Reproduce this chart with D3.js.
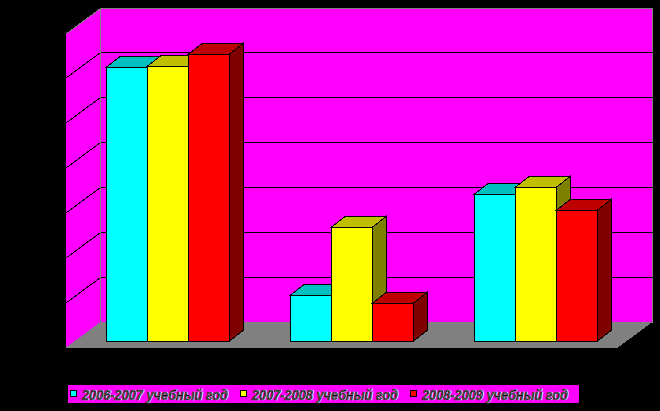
<!DOCTYPE html>
<html><head><meta charset="utf-8">
<style>html,body{margin:0;padding:0;background:#000}svg{display:block}</style>
<script src="https://cdn.jsdelivr.net/npm/d3@7"></script></head>
<body><div id="chart"></div>
<script>
const categories = ["Группа 1", "Группа 2", "Группа 3"];
const seriesNames = ["2006-2007 учебный год", "2007-2008 учебный год", "2008-2009 учебный год"];
const series2006 = [61, 10.3, 32.8];
const series2007 = [61.2, 25.4, 34.3];
const series2008 = [63.8, 8.5, 29.2];
const gridTicks = [10, 20, 30, 40, 50, 60, 70];

const W = 660, H = 411;
const allSeries = [series2006, series2007, series2008];
const front = ["#00FFFF", "#FFFF00", "#FF0000"];
const topC = ["#00BFBF", "#BFBF00", "#BF0000"];
const side = ["#008080", "#808000", "#800000"];

const svg = d3.select("#chart").append("svg").attr("width", W).attr("height", H)
  .attr("shape-rendering", "crispEdges");
svg.append("rect").attr("width", W).attr("height", H).attr("fill", "#000");

// 3D box frame
const depth = {dx: 34, dy: -25.5};
const frame = {x0: 66, x1: 618, y0: 347.5};
const barDepth = {dx: 14, dy: -11};
const yBack = d3.scaleLinear().domain([0, 70]).range([322, 7.5]);
const yBar = d3.scaleLinear().domain([0, 70]).range([341.5, 341.5 - 314.5]);
const x0 = d3.scaleBand().domain(categories).range([75.5, 627.5])
  .paddingInner(61 / 184).paddingOuter(30.5 / 184);
const x1 = d3.scaleBand().domain(d3.range(3)).range([0, x0.bandwidth()]);

const poly = pts => pts.map(p => p.join(",")).join(" ");
const bx0 = frame.x0 + depth.dx + .5, bx1 = frame.x1 + depth.dx + .5;
const topBack = Math.ceil(yBack(70)) + .5, botBack = yBack(0);

// back wall
svg.append("rect").attr("x", bx0).attr("y", topBack).attr("width", bx1 - bx0).attr("height", botBack - topBack)
  .attr("fill", "#FF00FF").attr("stroke", "#808080");
// left wall
svg.append("polygon").attr("points", poly([[frame.x0, topBack - depth.dy], [bx0, topBack], [bx0, botBack], [frame.x0, frame.y0]]))
  .attr("fill", "#FF00FF");
svg.append("line").attr("x1", frame.x0).attr("y1", topBack - depth.dy).attr("x2", bx0).attr("y2", topBack).attr("stroke", "#808080");
// floor
svg.append("polygon").attr("points", poly([[frame.x0, frame.y0], [bx0, botBack], [bx1, botBack], [frame.x1, frame.y0]]))
  .attr("fill", "#808080");

// gridlines
const g = svg.append("g").attr("stroke", "#000").attr("fill", "none");
gridTicks.slice(0, -1).forEach(t => {
  const y = Math.round(yBack(t)) + 0.5;
  g.append("line").attr("x1", bx0 + .5).attr("x2", bx1).attr("y1", y).attr("y2", y);
  g.append("line").attr("x1", frame.x0).attr("x2", bx0).attr("y1", y - depth.dy).attr("y2", y);
});
svg.append("line").attr("x1", bx0).attr("x2", bx0).attr("y1", topBack).attr("y2", botBack).attr("stroke", "#808080");

// bars
const bars = svg.append("g").attr("stroke", "#000").attr("stroke-width", 1);
categories.forEach((c, ci) => {
  allSeries.forEach((vals, si) => {
    const l = x0(c) + x1(si), r = l + x1.bandwidth();
    const b = yBar(0), t = Math.round(yBar(vals[ci]) - .5) + .5;
    const {dx, dy} = barDepth;
    bars.append("polygon").attr("fill", topC[si])
      .attr("points", poly([[l, t], [l + dx, t + dy], [r + dx, t + dy], [r, t]]));
    bars.append("polygon").attr("fill", side[si])
      .attr("points", poly([[r, t], [r + dx, t + dy], [r + dx, b + dy], [r, b]]));
    bars.append("rect").attr("fill", front[si]).attr("x", l).attr("y", t).attr("width", r - l).attr("height", b - t);
  });
});

// legend
const legend = svg.append("g");
legend.append("rect").attr("x", 68).attr("y", 385).attr("width", 511).attr("height", 18).attr("fill", "#FF00FF");
const legendX = d3.scaleLinear().domain([0, 2]).range([70.5, 410.5]);
seriesNames.forEach((name, i) => {
  const x = legendX(i);
  legend.append("rect").attr("x", x).attr("y", 390.5).attr("width", 6).attr("height", 6)
    .attr("fill", front[i]).attr("stroke", "#000");
  legend.append("text").attr("x", x + 11.5).attr("y", 399.5)
    .attr("font-family", "'Liberation Sans', Arial, sans-serif").attr("font-size", 14)
    .attr("font-weight", "bold").attr("font-style", "italic").attr("fill", "#000")
    .attr("stroke", "#000").attr("stroke-width", 0.3)
    .attr("textLength", 146).attr("lengthAdjust", "spacingAndGlyphs")
    .style("text-shadow", "1px 0 0 #fff").text(name);
});
</script></body></html>
